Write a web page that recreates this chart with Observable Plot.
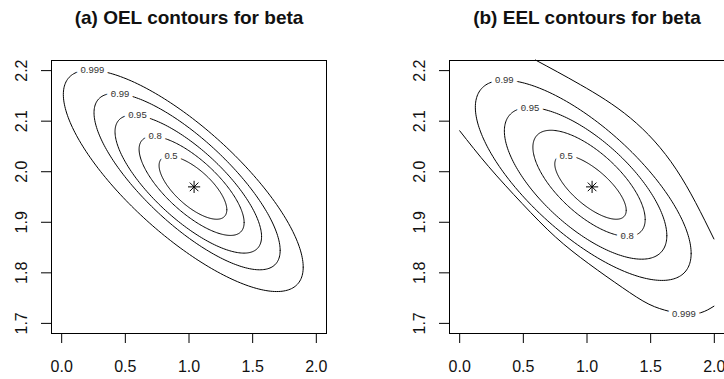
<!DOCTYPE html>
<html><head><meta charset="utf-8">
<script src="https://cdn.jsdelivr.net/npm/d3@7"></script>
<script src="https://cdn.jsdelivr.net/npm/@observablehq/plot@0.6"></script>
<style>
html,body{margin:0;padding:0;background:#fff;}
#wrap{position:relative;width:724px;height:379px;overflow:hidden;background:#fff;}
.panel{position:absolute;top:0;}
</style></head><body><div id="wrap"></div>
<script>
// ---- data ----
const xTicks = [0, 0.5, 1, 1.5, 2];
const yTicks = [1.7, 1.8, 1.9, 2.0, 2.1, 2.2];
const levels = ["0.5", "0.8", "0.95", "0.99", "0.999"];
const estX = [1.04];
const estY = [1.97];

// (a) OEL contours: each closed contour as an ellipse (centre, half-extents, tilt = cos of phase)
const oelCx   = [1.031, 1.0205, 0.9945, 0.985, 0.955];
const oelCy   = [1.9685, 1.972, 1.9755, 1.9805, 1.982];
const oelRx   = [0.266, 0.4125, 0.5755, 0.731, 0.942];
const oelRy   = [0.0625, 0.098, 0.1365, 0.1745, 0.219];
const oelTilt = [-0.70, -0.74, -0.76, -0.78, -0.78];
const oelLabelX = [0.859, 0.734, 0.595, 0.459, 0.241];
const oelLabelY = [2.031, 2.070, 2.112, 2.153, 2.2014];

// (b) EEL contours: levels 0.5 .. 0.99 closed, 0.999 open (clipped by the grid)
const eelCx   = [1.0275, 1.016, 0.989, 0.9705];
const eelCy   = [1.9695, 1.977, 1.977, 1.983];
const eelRx   = [0.2805, 0.441, 0.638, 0.8475];
const eelRy   = [0.0635, 0.105, 0.150, 0.198];
const eelTilt = [-0.72, -0.68, -0.69, -0.73];
const eel999LowerX = [0.0, 0.228, 0.491, 0.752, 1.014, 1.277, 1.486, 1.643, 1.761, 1.892, 1.997];
const eel999LowerY = [2.081, 2.010, 1.937, 1.871, 1.818, 1.771, 1.738, 1.724, 1.718, 1.721, 1.734];
const eel999UpperX = [0.595, 0.949, 1.342, 1.700, 1.997];
const eel999UpperY = [2.221, 2.172, 2.106, 2.005, 1.867];
const eelLabelX = [0.836, 1.316, 0.553, 0.351, 1.761];
const eelLabelY = [2.031, 1.872, 2.127, 2.181, 1.719];

const titles = ["(a) OEL contours for beta", "(b) EEL contours for beta"];

// ---- build ----
const FONT = '"Liberation Sans", Arial, Helvetica, sans-serif';
function ellipsePts(level, cx, cy, rx, ry, c, n = 240) {
  const d = Math.acos(c);
  return d3.range(n + 1).map(i => {
    const t = 2 * Math.PI * i / n;
    return {level, x: cx + rx * Math.cos(t), y: cy + ry * Math.cos(t + d)};
  });
}
function closed(cx, cy, rx, ry, tilt) {
  return cx.flatMap((_, i) => ellipsePts(levels[i], cx[i], cy[i], rx[i], ry[i], tilt[i]));
}
function openCurves(list) {
  return list.flatMap(([name, xs, ys]) => xs.map((x, i) => ({level: name, x, y: ys[i]})));
}
function labelRows(xs, ys) {
  return xs.map((x, i) => ({x, y: ys[i], text: levels[i]}));
}

function panel(title, closedPts, openPts, labels, left) {
  const fmt = d3.format(".1f");
  const est = estX.map((x, i) => ({x, y: estY[i]}));
  const marks = [
    Plot.frame({stroke: "black", strokeWidth: 1}),
    Plot.line(closedPts, {x: "x", y: "y", z: "level", stroke: "black", strokeWidth: 1}),
  ];
  if (openPts.length) marks.push(Plot.line(openPts, {x: "x", y: "y", z: "level", stroke: "black", strokeWidth: 1, curve: "natural"}));
  marks.push(
    Plot.text(labels, {x: "x", y: "y", text: "text", fontSize: 9.5, fill: "#333", stroke: "white", strokeWidth: 8, strokeLinejoin: "round", paintOrder: "stroke"}),
    Plot.dot(est, {x: "x", y: "y", symbol: "plus", r: 4, stroke: "black", strokeWidth: 1}),
    Plot.dot(est, {x: "x", y: "y", symbol: "times", r: 4, stroke: "black", strokeWidth: 1}),
    Plot.axisX({ticks: xTicks, tickSize: 10, tickPadding: 17, tickFormat: fmt, fontSize: 16, fill: "#111", label: null}),
    Plot.axisY({ticks: yTicks, tickSize: 10, tickPadding: 15, tickRotate: -90, tickFormat: fmt, fontSize: 16, fill: "#111", label: null}),
    Plot.text([title], {frameAnchor: "top", text: d => d, dy: -42.5, lineAnchor: "middle", fontWeight: "bold", fontSize: 19, fill: "#111"})
  );
  const p = Plot.plot({
    width: 398, height: 379,
    marginTop: 60, marginBottom: 46, marginLeft: 51, marginRight: 72,
    x: {domain: [-0.08, 2.08], label: null},
    y: {domain: [1.68, 2.22], label: null},
    style: {fontFamily: FONT, background: "transparent", overflow: "visible"},
    marks
  });
  p.classList.add("panel");
  p.style.left = left + "px";
  document.getElementById("wrap").appendChild(p);
}

panel(titles[0], closed(oelCx, oelCy, oelRx, oelRy, oelTilt), [], labelRows(oelLabelX, oelLabelY), 0);
panel(titles[1], closed(eelCx, eelCy, eelRx, eelRy, eelTilt),
  openCurves([["0.999 lower", eel999LowerX, eel999LowerY], ["0.999 upper", eel999UpperX, eel999UpperY]]),
  labelRows(eelLabelX, eelLabelY), 398);
</script></body></html>
